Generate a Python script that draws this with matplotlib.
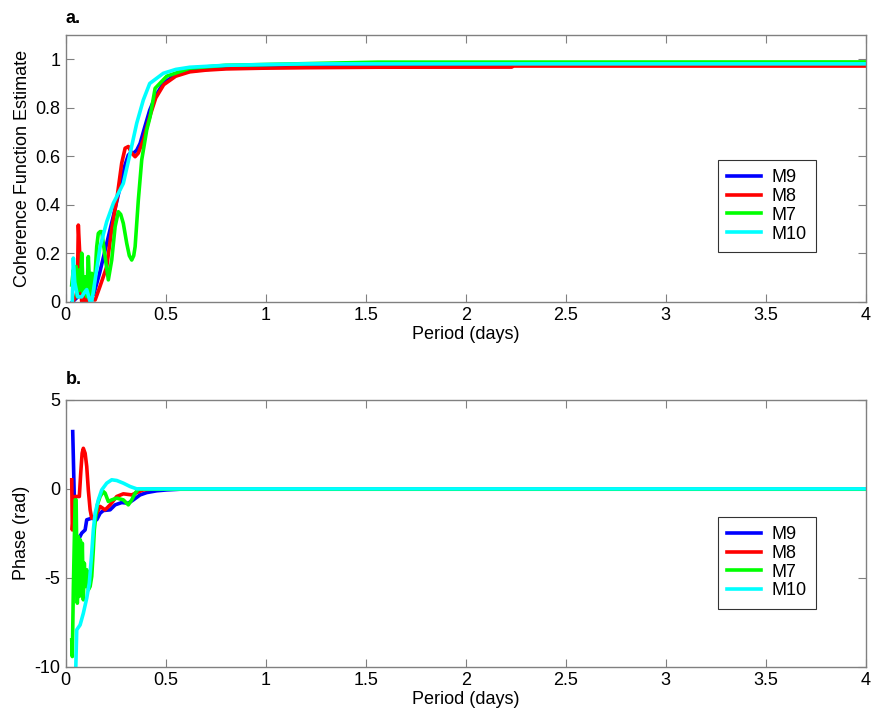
import matplotlib
matplotlib.use("Agg")
import matplotlib.pyplot as plt

plt.rcParams['font.family'] = ['Liberation Sans', 'DejaVu Sans']

series = ["M9", "M8", "M7", "M10"]
colors = ["#0000FF", "#FF0000", "#00FF00", "#00FFFF"]

# ---- panel a: coherence ----
coh_x_M9 = [0.035, 0.06, 0.08, 0.10, 0.12, 0.14, 0.17, 0.205, 0.24, 0.272, 0.295, 0.313, 0.325,
            0.338, 0.355, 0.372, 0.395, 0.42, 0.45, 0.488, 0.53, 0.57, 0.63, 0.705, 0.8, 0.87,
            0.98, 1.2, 1.56, 2.23, 2.24, 4.2]
coh_y_M9 = [0.0, 0.02, 0.04, 0.03, 0.06, 0.03, 0.12, 0.24, 0.36, 0.474, 0.56, 0.605, 0.615,
            0.612, 0.625, 0.653, 0.72, 0.79, 0.85, 0.90, 0.925, 0.942, 0.952, 0.958, 0.963, 0.966,
            0.967, 0.968, 0.970, 0.970, 0.980, 0.980]

coh_x_M8 = [0.035, 0.05, 0.058, 0.063, 0.07, 0.075, 0.08, 0.09, 0.10, 0.11, 0.12, 0.13, 0.147,
            0.17, 0.205, 0.23, 0.255, 0.28, 0.297, 0.313, 0.33, 0.347, 0.363, 0.388, 0.42, 0.45,
            0.49, 0.55, 0.62, 0.70, 0.80, 0.98, 1.2, 1.56, 2.23, 2.24, 4.2]
coh_y_M8 = [0.0, 0.02, 0.05, 0.316, 0.2, 0.05, 0.0, 0.03, 0.0, 0.01, 0.0, 0.01, 0.007,
            0.06, 0.144, 0.30, 0.42, 0.572, 0.633, 0.64, 0.613, 0.598, 0.613, 0.667, 0.763, 0.84,
            0.895, 0.93, 0.948, 0.955, 0.96, 0.963, 0.965, 0.967, 0.968, 0.972, 0.972]

coh_x_M7 = [0.030, 0.038, 0.047, 0.052, 0.058, 0.063, 0.072, 0.080, 0.088, 0.097, 0.105, 0.113,
            0.122, 0.130, 0.138, 0.147, 0.155, 0.163, 0.172, 0.180, 0.197, 0.213, 0.230, 0.247,
            0.263, 0.275, 0.288, 0.305, 0.318, 0.330, 0.340, 0.347, 0.363, 0.380, 0.405, 0.422,
            0.447, 0.505, 0.62, 0.80, 1.56, 4.2]
coh_y_M7 = [0.069, 0.131, 0.062, 0.145, 0.021, 0.131, 0.048, 0.20, 0.035, 0.103, 0.021, 0.186,
            0.021, 0.117, 0.035, 0.117, 0.227, 0.282, 0.289, 0.289, 0.186, 0.090, 0.172, 0.31,
            0.371, 0.36, 0.323, 0.241, 0.19, 0.172, 0.19, 0.227, 0.419, 0.585, 0.708, 0.763,
            0.88, 0.93, 0.963, 0.975, 0.988, 0.989]

coh_x_M10 = [0.033, 0.038, 0.045, 0.06, 0.08, 0.095, 0.105, 0.122, 0.13, 0.147, 0.172, 0.205,
             0.238, 0.288, 0.322, 0.355, 0.388, 0.42, 0.488, 0.55, 0.62, 0.80, 1.2, 4.2]
coh_y_M10 = [0.0, 0.18, 0.08, 0.02, 0.02, 0.04, 0.05, 0.0, 0.0, 0.09, 0.227, 0.33,
             0.406, 0.488, 0.612, 0.736, 0.832, 0.90, 0.942, 0.958, 0.967, 0.975, 0.981, 0.981]

# ---- panel b: phase ----
ph_x_M9 = [0.035, 0.038, 0.043, 0.052, 0.063, 0.080, 0.097, 0.105, 0.130, 0.155, 0.172, 0.188,
           0.222, 0.247, 0.280, 0.313, 0.338, 0.372, 0.405, 0.455, 0.505, 0.572, 4.2]
ph_y_M9 = [3.22, 1.82, -0.62, -2.68, -2.87, -2.49, -2.31, -1.74, -1.65, -1.74, -1.37, -1.22,
           -1.18, -0.90, -0.77, -0.81, -0.62, -0.34, -0.21, -0.11, -0.06, -0.02, -0.02]

ph_x_M8 = [0.030, 0.033, 0.038, 0.047, 0.055, 0.068, 0.075, 0.082, 0.088, 0.097, 0.105, 0.113,
           0.122, 0.130, 0.147, 0.172, 0.197, 0.222, 0.255, 0.288, 0.330, 0.355, 0.388, 0.438, 4.2]
ph_y_M8 = [0.51, -2.31, -1.56, -0.43, -0.43, -0.43, 0.88, 2.0, 2.28, 2.0, 1.26, -0.06,
           -1.18, -1.65, -1.56, -0.99, -1.18, -0.90, -0.43, -0.28, -0.34, -0.21, -0.06, 0.0, 0.0]

ph_x_M7 = [0.030, 0.033, 0.038, 0.047, 0.052, 0.058, 0.063, 0.068, 0.073, 0.078, 0.083, 0.088,
           0.093, 0.098, 0.105, 0.113, 0.122, 0.130, 0.138, 0.143, 0.150, 0.158, 0.172, 0.188,
           0.197, 0.213, 0.230, 0.255, 0.288, 0.313, 0.330, 0.347, 0.363, 4.2]
ph_y_M7 = [-8.5, -9.43, -5.68, -0.62, -0.62, -6.43, -2.68, -6.05, -2.87, -5.68, -3.06, -6.24,
           -4.18, -5.49, -4.55, -5.68, -5.49, -4.93, -3.43, -2.31, -1.56, -0.90, -0.43, -0.15,
           -0.24, -0.71, -0.62, -0.52, -0.62, -0.90, -0.62, -0.24, -0.02, -0.02]

ph_x_M10 = [0.033, 0.050, 0.055, 0.072, 0.088, 0.105, 0.118, 0.130, 0.138, 0.147, 0.163, 0.180,
            0.205, 0.230, 0.255, 0.288, 0.322, 0.355, 4.2]
ph_y_M10 = [-10.2, -10.2, -7.93, -7.65, -7.0, -6.15, -5.3, -3.62, -2.31, -1.37, -0.62, -0.06,
            0.32, 0.51, 0.47, 0.32, 0.13, 0.0, 0.0]

coh = [(coh_x_M9, coh_y_M9), (coh_x_M8, coh_y_M8), (coh_x_M7, coh_y_M7), (coh_x_M10, coh_y_M10)]
ph = [(ph_x_M9, ph_y_M9), (ph_x_M8, ph_y_M8), (ph_x_M7, ph_y_M7), (ph_x_M10, ph_y_M10)]

xticks = [0, 0.5, 1, 1.5, 2, 2.5, 3, 3.5, 4]
xticklabels = ["0", "0.5", "1", "1.5", "2", "2.5", "3", "3.5", "4"]

fig = plt.figure(figsize=(8.74, 7.17), dpi=100)
ax1 = fig.add_axes([0.0752, 0.5792, 0.9153, 0.372])
ax2 = fig.add_axes([0.0752, 0.0702, 0.9153, 0.372])

FS = 13
spine_c = "#808080"
LW = 2.6

def style(ax):
    for s in ax.spines.values():
        s.set_color(spine_c)
        s.set_linewidth(1.0)
    ax.tick_params(direction="in", top=True, right=True, length=6, color=spine_c,
                   labelsize=FS, labelcolor="black", width=0.8, pad=4)
    ax.set_xlim(0, 4)
    ax.set_xticks(xticks)
    ax.set_xticklabels(xticklabels)
    ax.set_xlabel("Period (days)", fontsize=FS, labelpad=1)

for (x, y), c, n in zip(coh, colors, series):
    ax1.plot(x, y, color=c, lw=LW, label=n)
ax1.set_ylim(0, 1.1)
ax1.set_yticks([0, 0.2, 0.4, 0.6, 0.8, 1])
ax1.set_yticklabels(["0", "0.2", "0.4", "0.6", "0.8", "1"])
ax1.set_ylabel("Coherence Function Estimate", fontsize=FS, labelpad=3)
style(ax1)

for (x, y), c, n in zip(ph, colors, series):
    ax2.plot(x, y, color=c, lw=LW, label=n)
ax2.set_ylim(-10, 5)
ax2.set_yticks([-10, -5, 0, 5])
ax2.set_yticklabels(["-10", "-5", "0", "5"])
ax2.set_ylabel("Phase (rad)", fontsize=FS, labelpad=3)
style(ax2)

for ax, top in [(ax1, 0.531), (ax2, 0.561)]:
    leg = ax.legend(loc="upper left", bbox_to_anchor=(0.815, top),
                    fontsize=FS, frameon=True, fancybox=False, handlelength=1.9,
                    handletextpad=0.6, borderpad=0.5, labelspacing=0.1, borderaxespad=0)
    leg.get_frame().set_edgecolor("black")
    leg.get_frame().set_linewidth(0.8)
    for l in leg.get_lines():
        l.set_linewidth(LW)

ax1.text(0.0, 1.03, "a.", transform=ax1.transAxes, fontsize=FS, fontweight="bold", ha="left", va="bottom")
ax2.text(0.0, 1.045, "b.", transform=ax2.transAxes, fontsize=FS, fontweight="bold", ha="left", va="bottom")

fig.savefig("out.png", dpi=100)
